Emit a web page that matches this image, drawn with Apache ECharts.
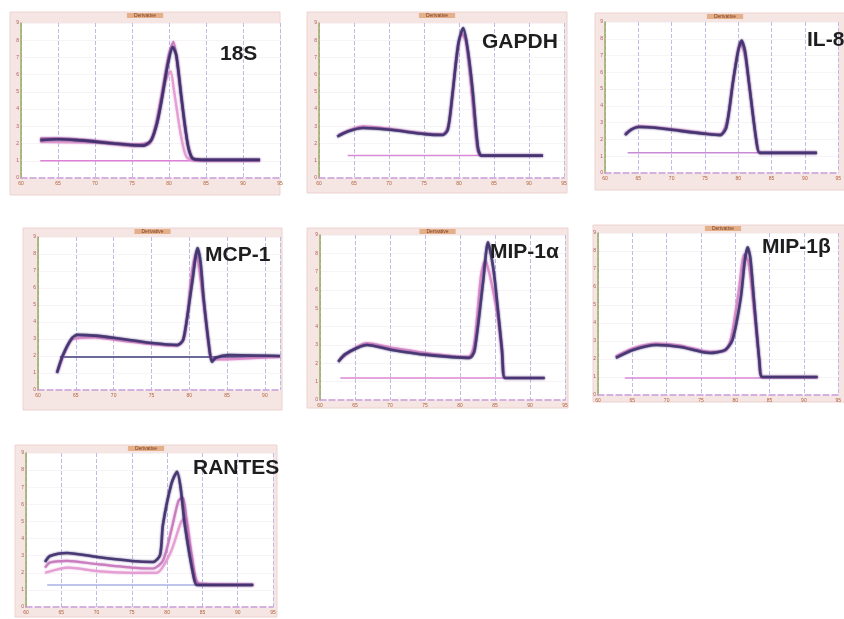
<!DOCTYPE html>
<html>
<head>
<meta charset="utf-8">
<script src="https://cdn.jsdelivr.net/npm/echarts@6/dist/echarts.min.js"></script>
<style>
  html, body { margin: 0; padding: 0; background: #fff; }
  #chart { width: 844px; height: 619px; }
</style>
</head>
<body>
<div id="chart"></div>
<script>
// melt curve panels: [temperature °C, -dF/dT]
const panelNames = ['18S', 'GAPDH', 'IL-8', 'MCP-1', 'MIP-1α', 'MIP-1β', 'RANTES'];

const s18Dark = [[62.6,2.2],[65,2.25],[67.5,2.2],[70.2,2.1],[72.5,2.0],[75.3,1.9],[76.6,1.88],[77.6,2.2],[78.4,3.2],[79.0,4.5],[79.8,6.5],[80.5,7.6],[81.0,7.1],[81.7,4.6],[82.6,1.8],[83.3,1.1],[85,1.05],[92.3,1.05]];
const s18Purple = [[62.6,2.3],[65,2.3],[70.2,2.15],[75.3,1.95],[77.4,2.1],[78.2,3.0],[79.0,4.8],[80.0,7.2],[80.6,7.9],[81.3,6.0],[82.2,2.8],[83.1,1.2],[85,1.05],[92.3,1.05]];
const s18Pink = [[62.6,2.1],[70.2,2.05],[75.3,1.85],[77.4,2.0],[78.4,3.4],[79.5,5.6],[80.2,6.2],[80.7,5.0],[81.6,2.5],[82.4,1.2],[84,1.0],[92.3,1.0]];
const s18Base = [[62.6,1.0],[92.3,1.0]];

const gapdhDark = [[62.6,2.4],[64.1,2.7],[66.3,2.9],[70.1,2.8],[75.1,2.55],[77.7,2.5],[78.4,2.8],[79.1,5.0],[79.9,7.8],[80.6,8.7],[81.2,7.6],[81.9,5.3],[82.7,1.8],[83.2,1.3],[85,1.3],[92.0,1.3]];
const gapdhPink = [[62.8,2.5],[66.3,3.0],[70.1,2.85],[75.1,2.6],[77.7,2.55],[78.6,3.2],[79.6,6.8],[80.4,8.4],[81.0,7.9],[81.8,5.0],[82.6,1.7],[83.2,1.3],[92.0,1.3]];
const gapdhBase = [[64.1,1.3],[92.0,1.3]];

const il8Dark = [[63.0,2.26],[64,2.6],[65.1,2.74],[67.5,2.7],[70.3,2.56],[75.3,2.32],[77.3,2.26],[78.2,2.7],[79.2,5.4],[80.0,7.3],[80.5,7.9],[81.0,7.3],[81.6,5.4],[82.7,1.96],[83.2,1.2],[85,1.2],[91.8,1.2]];
const il8Purple = [[63.0,2.35],[65.1,2.8],[70.3,2.6],[75.3,2.35],[77.3,2.3],[78.4,3.2],[79.4,6.0],[80.3,7.8],[81.0,7.0],[81.8,4.8],[82.8,1.7],[83.3,1.2],[91.8,1.2]];
const il8Base = [[63.4,1.2],[91.8,1.2]];

const mcp1Dark = [[62.5,1.0],[63.3,2.06],[64.5,3.06],[65.2,3.24],[67.5,3.2],[70.2,3.06],[75.1,2.76],[78.4,2.65],[79.2,2.94],[80.4,6.35],[81.1,8.35],[81.5,7.5],[81.9,5.4],[82.6,2.65],[83.0,1.65],[83.5,1.9],[85.2,2.06],[92.0,2.0]];
const mcp1Pink = [[62.6,1.1],[63.6,2.3],[64.6,3.0],[67.5,3.1],[70.2,2.95],[75.1,2.7],[78.4,2.6],[79.4,3.2],[80.3,6.8],[80.9,8.0],[81.5,6.5],[82.2,4.0],[82.8,2.0],[83.4,1.8],[92.0,1.95]];
const mcp1Base = [[62.9,1.94],[92.0,1.94]];

const mip1aDark = [[62.6,2.08],[63.6,2.5],[65.3,2.84],[66.7,3.0],[70.3,2.73],[75.3,2.46],[81.4,2.3],[82.1,2.73],[83.3,6.45],[84.0,8.6],[84.5,7.8],[85.0,6.45],[86.0,2.73],[86.4,1.2],[88,1.2],[92.1,1.2]];
const mip1aPink = [[62.8,2.2],[65.3,2.9],[66.7,3.1],[70.3,2.85],[75.3,2.55],[81.2,2.35],[82.0,3.0],[83.0,6.8],[83.6,7.6],[84.2,6.9],[85.4,4.5],[86.2,1.8],[86.5,1.2],[92.1,1.2]];
const mip1aBase = [[62.9,1.2],[92.1,1.2]];

const mip1bDark = [[62.6,2.06],[65.1,2.5],[68.5,2.78],[72.0,2.67],[76.3,2.33],[78.5,2.5],[79.6,3.06],[80.8,5.4],[81.4,7.5],[81.8,8.2],[82.2,7.6],[82.7,5.4],[83.5,1.94],[83.9,1.0],[86,1.0],[92.0,1.0]];
const mip1bBlue = [[62.6,2.15],[65.1,2.6],[68.5,2.85],[72.0,2.75],[76.3,2.4],[78.5,2.45],[79.4,3.2],[80.5,5.8],[81.3,7.8],[81.9,7.4],[82.8,4.5],[83.6,1.6],[84.0,1.0],[92.0,1.0]];
const mip1bBase = [[63.9,0.95],[92.0,0.95]];

const rantesDark = [[62.7,2.63],[63.4,2.98],[65.8,3.16],[70.1,2.92],[75.0,2.69],[78.0,2.63],[79.0,3.04],[79.4,4.8],[80.6,7.2],[81.4,7.9],[81.9,7.0],[82.5,4.8],[83.7,1.87],[84.2,1.29],[86,1.29],[92.2,1.29]];
const rantesPink = [[62.7,2.3],[63.4,2.6],[65.8,2.7],[70.1,2.5],[75.0,2.3],[78.0,2.25],[79.4,2.7],[80.6,4.5],[81.6,6.2],[82.2,6.4],[83.0,4.2],[84.0,1.7],[84.6,1.29],[92.2,1.29]];
const rantesLow = [[62.7,2.0],[66,2.3],[70.1,2.1],[75,2.0],[78.5,2.0],[80.5,3.2],[82.0,5.0],[82.6,5.2],[83.5,3.0],[84.5,1.4],[92.2,1.29]];
const rantesBase = [[63.0,1.29],[92.2,1.29]];

const panelCurves = [
  [s18Pink, s18Purple, s18Dark],
  [gapdhPink, gapdhDark],
  [il8Purple, il8Dark],
  [mcp1Pink, mcp1Dark],
  [mip1aPink, mip1aDark],
  [mip1bBlue, mip1bDark],
  [rantesLow, rantesPink, rantesDark]
];
const panelBases = [s18Base, gapdhBase, il8Base, mcp1Base, mip1aBase, mip1bBase, rantesBase];

// layout of each small panel on the page
const layout = [
  { frame: [10, 12, 270, 183], grid: [21, 23, 259, 155], xMax: 95, title: [220, 44] },
  { frame: [307, 12, 260, 181], grid: [319, 23, 245, 155], xMax: 95, title: [482, 32] },
  { frame: [595, 13, 260, 177], grid: [605, 22, 259, 151], xMax: 95, title: [807, 30] },
  { frame: [23, 228, 259, 182], grid: [38, 237, 242, 153], xMax: 92, title: [205, 245] },
  { frame: [307, 228, 261, 180], grid: [320, 235, 245, 165], xMax: 95, title: [490, 242] },
  { frame: [593, 225, 260, 177], grid: [598, 233, 268, 162], xMax: 95, title: [762, 237] },
  { frame: [15, 445, 262, 172], grid: [26, 453, 247, 154], xMax: 95, title: [193, 458] }
];

const traceColors = {
  2: ['#de8ccc', '#40306f'],
  3: ['#e39ad2', '#c779bd', '#3e2e6c']
};
const baseColors = ['#dd80d6', '#d88ad8', '#c98ad8', '#3a3a78', '#dc88d6', '#dc88d6', '#aab0e6'];

const chart = echarts.init(document.getElementById('chart'));

const grids = [], xAxes = [], yAxes = [], series = [], titles = [], graphics = [];

layout.forEach(function (p, i) {
  const f = p.frame;
  graphics.push({
    type: 'rect', z: -10,
    shape: { x: f[0], y: f[1], width: f[2], height: f[3] },
    style: { fill: '#f5e6e3', stroke: '#ecd3cf', lineWidth: 1 }
  });
  graphics.push({
    type: 'text', z: 10,
    x: f[0] + f[2] / 2, y: f[1] + 1,
    style: {
      text: 'Derivative', fontSize: 5, fill: '#7a3a1c', align: 'center',
      backgroundColor: '#e4b08a', padding: [0, 7]
    }
  });
  grids.push({
    left: p.grid[0], top: p.grid[1], width: p.grid[2], height: p.grid[3],
    show: true, backgroundColor: '#ffffff', borderWidth: 0
  });
  xAxes.push({
    type: 'value', gridIndex: i, min: 60, max: p.xMax, interval: 5,
    axisLine: { lineStyle: { color: '#c99ad4', type: 'dashed', width: 1.5 } },
    axisTick: { show: false },
    axisLabel: { fontSize: 5, color: '#b0603a', margin: 3, formatter: function (v) { return v % 5 === 0 ? v : ''; } },
    splitLine: { show: true, lineStyle: { color: '#bcbce4', type: 'dashed', width: 1 } }
  });
  yAxes.push({
    type: 'value', gridIndex: i, min: 0, max: 9, interval: 1,
    axisLine: { show: true, lineStyle: { color: '#9aab62', width: 1.5 } },
    axisTick: { show: false },
    axisLabel: { fontSize: 5, color: '#b05858', margin: 2 },
    splitLine: { show: true, lineStyle: { color: '#f7f3f7', width: 1 } }
  });
  titles.push({
    text: panelNames[i], left: p.title[0], top: p.title[1], padding: 0,
    textStyle: { fontFamily: 'Liberation Sans', fontSize: 21, fontWeight: 'bold', color: '#1e1e1e' }
  });
  series.push({
    type: 'line', xAxisIndex: i, yAxisIndex: i, data: panelBases[i],
    symbol: 'none', silent: true,
    lineStyle: { color: baseColors[i], width: 1.5 }
  });
  const curves = panelCurves[i];
  const cols = traceColors[curves.length];
  curves.forEach(function (c, k) {
    const dark = k === curves.length - 1;
    series.push({
      type: 'line', xAxisIndex: i, yAxisIndex: i, data: c,
      symbol: 'none', smooth: 0.25, silent: true,
      lineStyle: {
        color: cols[k], width: dark ? 2.6 : 2.2, opacity: dark ? 0.85 : 0.9,
        shadowBlur: 2, shadowColor: cols[k]
      }
    });
  });
});

chart.setOption({
  animation: false,
  backgroundColor: '#ffffff',
  title: titles,
  grid: grids,
  xAxis: xAxes,
  yAxis: yAxes,
  series: series,
  graphic: graphics
});
</script>
</body>
</html>
